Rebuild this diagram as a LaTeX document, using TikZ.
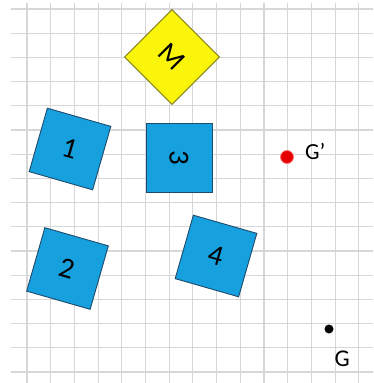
\documentclass[tikz,border=0pt]{standalone}
\usepackage{fontspec}
\setmainfont{Carlito}
\definecolor{tileblue}{RGB}{22,160,222}
\definecolor{tileedge}{RGB}{30,75,110}
\definecolor{mfill}{RGB}{250,245,10}
\definecolor{medge}{RGB}{140,135,30}
\definecolor{gridgray}{RGB}{215,215,215}
\begin{document}
\begin{tikzpicture}[x=1pt,y=-1pt,
  gridline/.style={draw=gridgray, line width=1.1pt},
  tile/.style={draw=tileedge, fill=tileblue, line width=0.9pt, minimum size=66pt, inner sep=0pt, font=\fontsize{29}{29}\selectfont},
  mtile/.style={draw=medge, fill=mfill, line width=0.9pt, minimum size=67pt, inner sep=0pt, font=\fontsize{29}{29}\selectfont},
  lbl/.style={inner sep=0pt, font=\fontsize{23}{23}\selectfont}]
\useasboundingbox (0,0) rectangle (373,383);
\fill[white] (0,0) rectangle (373,383);
\foreach \i in {0,...,14} \draw[gridline] ({27+23.7*\i},3) -- ({27+23.7*\i},383);
\foreach \j in {0,...,15} \draw[gridline] (11,{9+24.2*\j}) -- (373,{9+24.2*\j});
\node[mtile, rotate=45] (m) at (172,57) {\rotatebox{-90}{M}};
\node[tile, rotate=-16] (one) at (70,149) {1};
\node[tile, rotate=-16] (two) at (67.5,268.5) {2};
\node[tile, minimum width=66pt, minimum height=69pt] (three) at (179,157.5) {\rotatebox{-90}{3}};
\node[tile, rotate=-16] (four) at (216,256) {4};
\node[circle, fill=red!90!black, draw=red!55, line width=0.8pt, minimum size=13pt, inner sep=0pt] (gp) at (287,157) {};
\node[lbl, anchor=base west] (gplbl) at (305,159.5) {G’};
\node[circle, fill=black, minimum size=9pt, inner sep=0pt] (g) at (329,329) {};
\node[lbl, anchor=base west, font=\fontsize{24}{24}\selectfont] (glbl) at (334.5,366.5) {G};
\end{tikzpicture}
\end{document}
